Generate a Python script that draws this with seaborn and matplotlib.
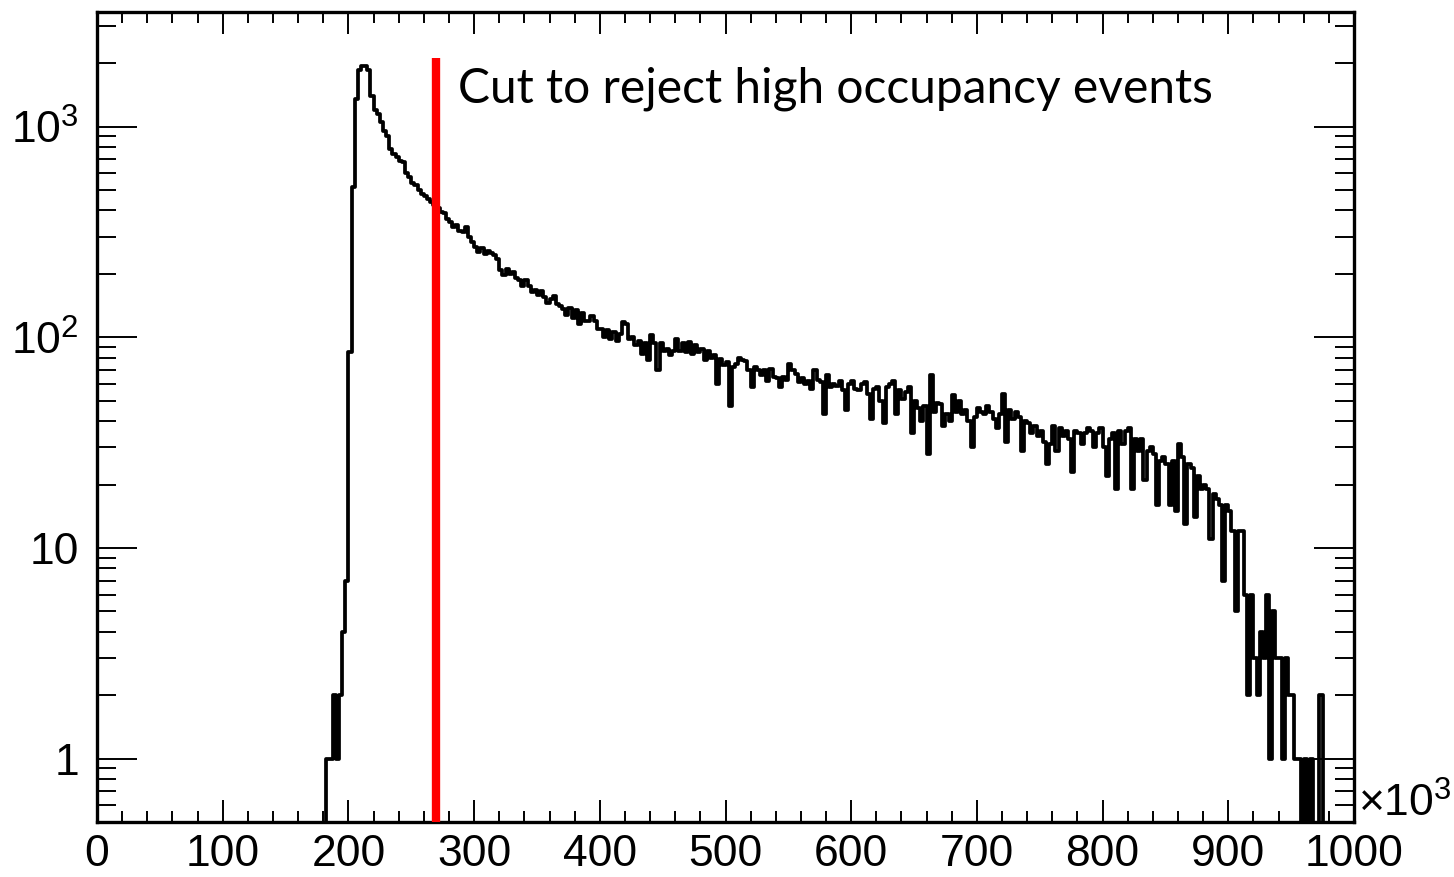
import numpy as np
import pandas as pd
import matplotlib
matplotlib.use("Agg")
import matplotlib.pyplot as plt
import seaborn as sns

# ---------------- data ----------------
first_edge = 180.0          # x (x10^3) of first listed bin
bin_width = 2.5
counts = [
    # 180 - 270
    0, 1, 1, 2, 1, 2, 4, 7, 85, 515, 1350, 1850, 1950, 1950, 1850, 1400,
    1200, 1150, 1050, 950, 900, 780, 740, 720, 690, 680, 600, 575, 540, 530,
    500, 480, 470, 455, 440, 425,
    # 270 - 400
    410, 395, 390, 365, 352, 335, 340, 318, 316, 332, 298, 282,
    268, 255, 265, 248, 258, 250, 246, 236, 208, 198, 212, 200,
    205, 192, 186, 176, 188, 175, 164, 168, 158, 166, 155, 146,
    152, 157, 144, 141, 136, 128, 138, 124, 135, 116, 130, 119,
    120, 126, 120, 110,
    # 400 - 520
    110, 100, 108, 98, 106, 96, 104, 118, 115, 98, 100, 92,
    96, 83, 94, 78, 102, 94, 70, 94, 86, 88, 82, 86,
    98, 86, 94, 85, 95, 83, 92, 85, 88, 78, 86, 80,
    82, 60, 79, 74, 76, 47, 72, 75, 80, 78, 77, 70,
    # 520 - 640
    58, 72, 70, 66, 70, 62, 71, 65, 64, 58, 65, 63,
    75, 70, 67, 61, 64, 60, 62, 57, 70, 63, 61, 43,
    66, 58, 60, 59, 62, 56, 45, 60, 62, 57, 56, 60,
    61, 54, 41, 57, 58, 50, 39, 58, 60, 62, 43, 56,
    # 640 - 760
    51, 55, 58, 35, 50, 46, 40, 47, 28, 66, 44, 49,
    48, 38, 43, 40, 53, 44, 50, 43, 45, 40, 30, 42,
    46, 44, 43, 47, 44, 41, 37, 43, 54, 32, 45, 41,
    44, 42, 29, 40, 39, 35, 38, 34, 36, 32, 25, 31,
    # 760 - 880
    38, 29, 37, 34, 36, 33, 23, 36, 35, 31, 35, 37,
    36, 30, 35, 37, 30, 22, 33, 35, 19, 36, 31, 36,
    37, 19, 33, 29, 33, 21, 29, 30, 28, 16, 26, 27,
    25, 16, 26, 15, 31, 27, 13, 25, 24, 14, 22, 19,
    # 880 - 990
    20, 19, 11, 18, 17, 16, 7, 16, 15, 12, 5, 12,
    12, 6, 2, 6, 3, 2, 4, 3, 6, 1, 5, 3,
    3, 1, 3, 2, 2, 1, 1, 0, 1, 0, 1, 0,
    0, 2, 0, 0, 0, 0, 0, 0,
]
cut_value = 270.0
cut_label = "Cut to reject high occupancy events"
x_ticks = [0, 100, 200, 300, 400, 500, 600, 700, 800, 900, 1000]
y_ticks = [1, 10, 100, 1000]
y_ticklabels = ["1", "10", r"$\mathregular{10^{2}}$", r"$\mathregular{10^{3}}$"]
offset_label = "\u00d7" + r"$\mathregular{10^{3}}$"

counts = np.array(counts, dtype=float)
edges = first_edge + bin_width * np.arange(len(counts) + 1)
centers = 0.5 * (edges[:-1] + edges[1:])
df = pd.DataFrame({"occupancy": centers, "count": counts})

# ---------------- style ----------------
sns.set_style("ticks")
plt.rcParams["font.family"] = ["Liberation Sans", "DejaVu Sans"]
plt.rcParams["mathtext.fontset"] = "custom"
plt.rcParams["mathtext.rm"] = "Liberation Sans"
plt.rcParams["mathtext.it"] = "Liberation Sans:italic"
plt.rcParams["mathtext.bf"] = "Liberation Sans:bold"
plt.rcParams["text.color"] = "black"
plt.rcParams["xtick.color"] = "black"
plt.rcParams["ytick.color"] = "black"
plt.rcParams["xtick.labelcolor"] = "black"
plt.rcParams["ytick.labelcolor"] = "black"

fig = plt.figure(figsize=(14.54, 8.77), dpi=100)
ax = fig.add_axes([97 / 1454, 1 - 822 / 877, 1257 / 1454, 810 / 877])

sns.histplot(data=df, x="occupancy", weights="count", bins=list(edges),
             element="step", fill=False, color="black", linewidth=2.7, ax=ax)
ax.set_yscale("log", nonpositive="clip")
ax.set_xlim(0, 1000)
ax.set_ylim(0.5, 3500)

ax.vlines(cut_value, 0.5, 2120, color="#ff0000", linewidth=6, zorder=5)
ax.text(287, 1300, cut_label, fontsize=34.5, family="Lato",
        color="black", va="baseline", ha="left")

ax.set_xlabel("")
ax.set_ylabel("")
ax.set_xticks(x_ticks)
ax.set_xticklabels([str(t) for t in x_ticks])
ax.xaxis.set_minor_locator(matplotlib.ticker.MultipleLocator(20))
ax.set_yticks(y_ticks)
ax.set_yticklabels(y_ticklabels)
ax.yaxis.set_minor_locator(matplotlib.ticker.LogLocator(base=10, subs=np.arange(2, 10)))
ax.yaxis.set_minor_formatter(matplotlib.ticker.NullFormatter())

for s in ax.spines.values():
    s.set_visible(True)
    s.set_linewidth(2.4)
    s.set_color("black")

ax.tick_params(axis="x", which="major", direction="in", length=16, width=1.4,
               top=True, bottom=True, labelsize=32, pad=9, colors="black")
ax.tick_params(axis="x", which="minor", direction="in", length=8, width=1.4,
               top=True, bottom=True, colors="black")
ax.tick_params(axis="y", which="major", direction="in", length=29, width=1.4,
               left=True, right=True, labelsize=32, pad=13, colors="black")
ax.tick_params(axis="y", which="minor", direction="in", length=14, width=1.4,
               left=True, right=True, colors="black")

ax.text(1.003, -0.004, offset_label, transform=ax.transAxes, fontsize=32,
        ha="left", va="bottom", color="black")

fig.savefig("out.png", dpi=100)
